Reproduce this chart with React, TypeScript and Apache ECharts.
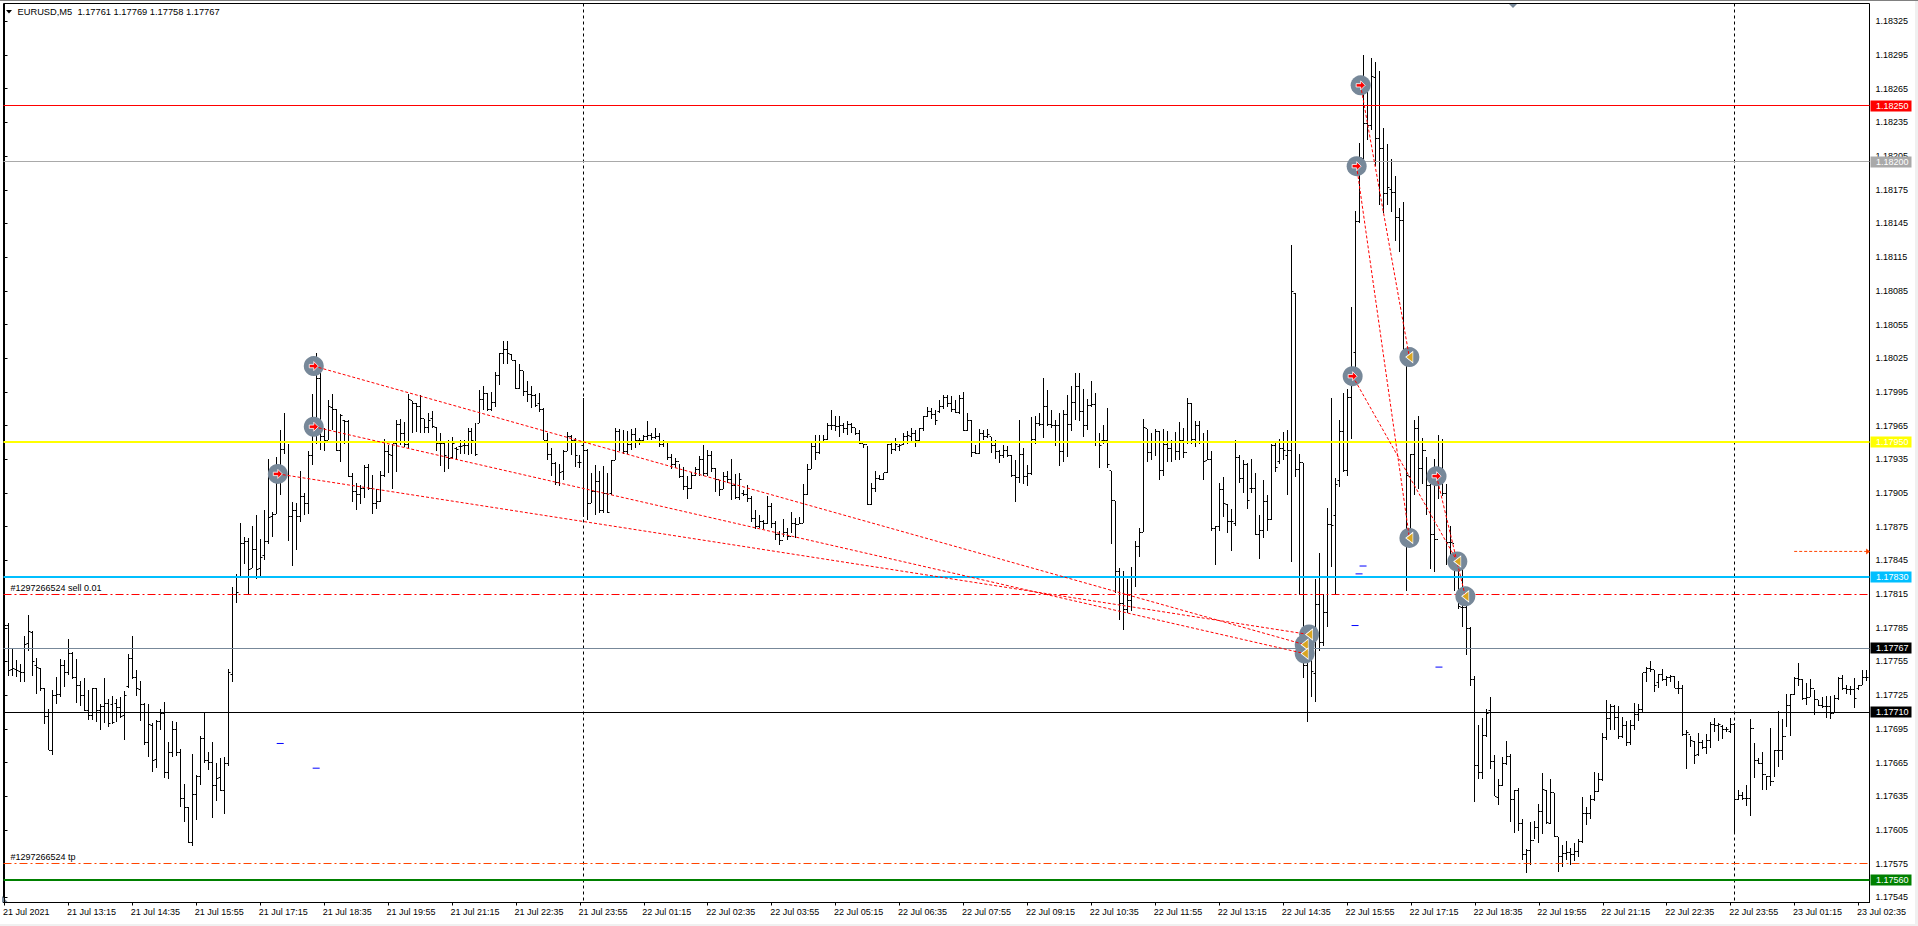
import React, { useEffect, useRef } from "react";
import * as echarts from "echarts";

const FONT = '"Liberation Sans", Arial, sans-serif';
const POINT = 1e-5;
const PRICE_MIN = 1.175404;
const PRICE_MAX = 1.1834085;

const timeLabels = [
  "21 Jul 2021", "21 Jul 13:15", "21 Jul 14:35", "21 Jul 15:55", "21 Jul 17:15", "21 Jul 18:35",
  "21 Jul 19:55", "21 Jul 21:15", "21 Jul 22:35", "21 Jul 23:55", "22 Jul 01:15", "22 Jul 02:35",
  "22 Jul 03:55", "22 Jul 05:15", "22 Jul 06:35", "22 Jul 07:55", "22 Jul 09:15", "22 Jul 10:35",
  "22 Jul 11:55", "22 Jul 13:15", "22 Jul 14:35", "22 Jul 15:55", "22 Jul 17:15", "22 Jul 18:35",
  "22 Jul 19:55", "22 Jul 21:15", "22 Jul 22:35", "22 Jul 23:55", "23 Jul 01:15", "23 Jul 02:35",
];
const timeTickBars = [0, 16, 32, 48, 64, 80, 96, 112, 128, 144, 160, 176, 192, 208, 224, 240, 256, 272, 288, 304, 320, 336, 352, 368, 384, 400, 416, 432, 448, 464];
const priceTicks = [
  1.18325, 1.18295, 1.18265, 1.18235, 1.18205, 1.18175, 1.18145, 1.18115, 1.18085, 1.18055, 1.18025,
  1.17995, 1.17965, 1.17935, 1.17905, 1.17875, 1.17845, 1.17815, 1.17785, 1.17755, 1.17725, 1.17695,
  1.17665, 1.17635, 1.17605, 1.17575, 1.17545,
];
const separatorBars = [145, 433];

const highs = [
  117815,117789,117766,117756,117753,117778,117796,117782,117758,117749,
  117731,117713,117730,117741,117757,117756,117775,117763,117757,117738,
  117740,117730,117731,117731,117717,117740,117722,117724,117722,117723,
  117729,117762,117778,117747,117738,117718,117717,117700,117703,117713,
  117719,117683,117702,117701,117677,117646,117625,117673,117654,117689,
  117710,117674,117683,117665,117669,117670,117748,117821,117833,117878,
  117866,117865,117876,117885,117864,117890,117935,117888,117937,117961,
  117976,117949,117897,117896,117925,117905,117942,117993,118030,118014,
  117963,117988,117993,117980,117975,117970,117970,117923,117914,117912,
  117930,117931,117921,117909,117925,117953,117948,117949,117970,117971,
  117968,117993,117987,117985,117992,117971,117976,117978,117964,117958,
  117950,117952,117955,117946,117952,117952,117963,117963,117967,117997,
  118000,117994,117995,118013,118030,118040,118040,118029,118023,118020,
  118014,118005,118000,117993,117994,117981,117958,117945,117933,117931,
  117943,117959,117957,117954,117939,117990,117944,117923,117930,117925,
  117929,117923,117934,117963,117962,117961,117960,117962,117963,117954,
  117957,117969,117958,117963,117958,117952,117950,117940,117936,117931,
  117928,117920,117924,117928,117938,117948,117943,117942,117927,117917,
  117924,117925,117935,117922,117923,117908,117912,117902,117890,117885,
  117881,117902,117896,117880,117871,117882,117874,117888,117883,117884,
  117913,117931,117950,117957,117957,117957,117967,117979,117974,117974,
  117967,117969,117967,117963,117961,117949,117947,117914,117925,117921,
  117923,117949,117951,117954,117949,117958,117960,117963,117961,117963,
  117974,117982,117981,117979,117988,117992,117992,117991,117988,117992,
  117995,117976,117970,117948,117962,117961,117962,117955,117952,117943,
  117948,117947,117939,117934,117970,117945,117930,117973,117974,117976,
  118007,117997,117979,117970,117976,117979,117992,118000,118012,118012,
  117998,117989,118005,117994,117958,117966,117981,117925,117898,117838,
  117836,117828,117839,117862,117874,117971,117962,117958,117962,117960,
  117962,117960,117952,117959,117968,117963,117990,117985,117969,117969,
  117958,117961,117942,117876,117914,117919,117895,117891,117952,117939,
  117934,117932,117935,117923,117885,117917,117903,117949,117951,117953,
  117959,117961,118126,118083,117940,117932,117777,117785,117828,117852,
  117815,117892,117990,117918,117970,117994,117998,118071,118156,118217,
  118295,118267,118292,118289,118281,118230,118216,118202,118187,118159,
  118164,118032,117940,117970,117974,117954,117937,117913,117935,117957,
  117953,117913,117876,117851,117844,117844,117810,117786,117742,117698,
  117705,117713,117723,117672,117650,117670,117684,117673,117641,117642,
  117615,117588,117612,117613,117628,117656,117641,117650,117638,117599,
  117592,117595,117589,117593,117597,117634,117625,117636,117657,117656,
  117691,117721,117717,117716,117715,117706,117702,117703,117718,117717,
  117745,117750,117755,117747,117744,117748,117742,117743,117742,117738,
  117734,117694,117689,117684,117691,117685,117690,117701,117705,117700,
  117698,117697,117705,117700,117641,117639,117645,117704,117682,117669,
  117674,117653,117696,117676,117711,117704,117726,117726,117741,117754,
  117739,117736,117739,117730,117721,117723,117724,117724,117725,117741,
  117743,117734,117733,117740,117734,117747,117747,
];
const lows = [
  117778,117742,117742,117741,117737,117737,117764,117742,117726,117729,
  117699,117676,117672,117717,117723,117732,117743,117739,117718,117715,
  117711,117703,117703,117701,117694,117700,117697,117699,117701,117705,
  117685,117731,117739,117724,117702,117681,117670,117657,117660,117694,
  117651,117650,117670,117671,117625,117612,117593,117591,117614,117645,
  117665,117658,117616,117631,117640,117619,117662,117737,117807,117831,
  117842,117814,117838,117828,117829,117845,117860,117866,117886,117903,
  117940,117862,117840,117854,117879,117885,117886,117930,117949,117943,
  117942,117952,117961,117942,117933,117949,117919,117897,117890,117895,
  117901,117908,117886,117891,117897,117919,117923,117909,117924,117948,
  117946,117945,117958,117959,117958,117958,117958,117963,117942,117929,
  117924,117926,117936,117934,117940,117940,117939,117940,117938,117967,
  117979,117978,117978,117982,118001,118020,118020,118023,117998,117998,
  117991,117986,117981,117982,117977,117952,117934,117920,117912,117911,
  117917,117942,117939,117928,117927,117884,117881,117896,117885,117887,
  117887,117887,117903,117934,117942,117940,117940,117943,117945,117948,
  117951,117952,117952,117953,117946,117946,117934,117926,117927,117918,
  117908,117900,117909,117920,117920,117920,117920,117924,117906,117902,
  117909,117914,117899,117900,117899,117902,117897,117879,117873,117874,
  117873,117877,117874,117863,117859,117866,117863,117869,117865,117877,
  117878,117903,117926,117934,117940,117951,117952,117961,117960,117955,
  117958,117957,117958,117957,117949,117945,117894,117894,117906,117917,
  117917,117923,117940,117942,117942,117948,117949,117951,117946,117951,
  117960,117973,117971,117966,117976,117980,117982,117977,117976,117975,
  117960,117960,117937,117940,117940,117952,117954,117941,117935,117932,
  117936,117937,117919,117897,117914,117913,117911,117921,117949,117965,
  117954,117965,117963,117947,117929,117933,117937,117960,117970,117969,
  117955,117961,117982,117947,117927,117949,117927,117860,117816,117792,
  117783,117798,117800,117821,117848,117870,117933,117934,117938,117917,
  117920,117933,117933,117934,117934,117936,117949,117949,117946,117949,
  117917,117934,117871,117841,117871,117884,117869,117853,117876,117914,
  117905,117891,117905,117868,117846,117865,117871,117881,117924,117931,
  117934,117903,117844,117919,117814,117740,117701,117723,117719,117764,
  117769,117786,117839,117814,117910,117924,117920,117953,118008,118145,
  118198,118219,118228,118196,118161,118154,118161,118155,118129,118120,
  118020,117818,117873,117903,117909,117913,117885,117837,117835,117900,
  117902,117841,117848,117818,117802,117786,117761,117733,117630,117650,
  117650,117688,117659,117635,117627,117644,117663,117612,117602,117604,
  117578,117567,117574,117597,117593,117601,117610,117610,117599,117568,
  117572,117578,117574,117577,117581,117593,117609,117615,117631,117639,
  117649,117685,117694,117694,117686,117687,117680,117681,117694,117702,
  117709,117737,117746,117728,117731,117738,117733,117737,117731,117726,
  117689,117659,117679,117664,117671,117677,117673,117678,117692,117684,
  117686,117692,117691,117602,117632,117632,117626,117617,117651,117664,
  117641,117641,117644,117652,117661,117667,117697,117689,117725,117733,
  117721,117716,117723,117707,117715,117714,117705,117704,117709,117721,
  117730,117726,117725,117714,117730,117734,117738,
];
const opens = [
  117815,117787,117748,117748,117746,117745,117771,117781,117751,117749,
  117731,117706,117676,117725,117726,117751,117745,117762,117741,117734,
  117725,117711,117707,117731,117711,117715,117718,117717,117718,117714,
  117707,117733,117758,117741,117730,117717,117683,117698,117668,117702,
  117709,117656,117674,117694,117674,117633,117625,117594,117637,117653,
  117686,117667,117665,117645,117652,117640,117664,117743,117815,117831,
  117860,117862,117838,117855,117838,117849,117862,117884,117886,117921,
  117944,117950,117884,117889,117884,117902,117896,117938,117964,118007,
  117955,117952,117981,117979,117943,117970,117969,117920,117906,117904,
  117909,117928,117909,117896,117897,117921,117942,117938,117949,117966,
  117958,117948,117987,117985,117982,117971,117963,117971,117963,117949,
  117949,117937,117937,117945,117946,117947,117947,117960,117951,117967,
  117988,117994,117979,117986,118010,118029,118033,118028,118023,117998,
  118014,117995,117993,117992,117985,117979,117952,117939,117931,117914,
  117924,117942,117955,117952,117932,117947,117943,117896,117906,117915,
  117889,117905,117905,117934,117960,117951,117942,117948,117957,117952,
  117952,117955,117956,117954,117955,117948,117950,117937,117930,117933,
  117920,117911,117909,117921,117926,117935,117922,117938,117927,117917,
  117908,117920,117917,117912,117901,117905,117904,117900,117882,117875,
  117880,117878,117893,117878,117868,117863,117870,117866,117878,117877,
  117878,117904,117926,117946,117941,117951,117953,117965,117965,117964,
  117965,117962,117966,117963,117958,117949,117948,117895,117909,117918,
  117917,117923,117948,117944,117946,117948,117955,117955,117958,117952,
  117962,117973,117978,117975,117978,117982,117990,117985,117979,117977,
  117989,117961,117970,117941,117940,117958,117955,117955,117947,117942,
  117938,117943,117938,117921,117919,117939,117920,117922,117953,117967,
  117966,117982,117966,117965,117965,117942,117975,117966,117986,118000,
  117978,117965,117983,117984,117950,117952,117952,117925,117898,117835,
  117807,117801,117809,117830,117857,117870,117962,117941,117950,117960,
  117925,117948,117945,117950,117942,117952,117941,117985,117953,117965,
  117950,117934,117935,117873,117875,117908,117895,117880,117878,117937,
  117918,117930,117909,117909,117868,117872,117897,117881,117947,117933,
  117945,117938,117943,118083,117926,117932,117751,117762,117744,117806,
  117772,117799,117877,117885,117916,117960,117925,117990,118030,118147,
  118203,118234,118232,118275,118221,118212,118172,118175,118173,118150,
  118148,118023,117920,117939,117962,117927,117943,117912,117868,117864,
  117920,117905,117861,117860,117845,117803,117803,117784,117739,117662,
  117656,117689,117711,117666,117634,117645,117664,117670,117632,117640,
  117611,117583,117587,117596,117607,117621,117640,117611,117638,117599,
  117581,117584,117585,117583,117586,117595,117620,117620,117632,117639,
  117650,117687,117704,117715,117705,117688,117698,117683,117698,117708,
  117712,117745,117749,117748,117736,117743,117739,117741,117742,117731,
  117731,117690,117690,117684,117672,117683,117678,117685,117699,117698,
  117697,117694,117693,117699,117632,117636,117633,117633,117695,117667,
  117664,117654,117653,117648,117676,117676,117688,117716,117726,117740,
  117739,117722,117723,117731,117721,117716,117715,117715,117709,117722,
  117740,117731,117730,117730,117731,117734,117741,
];
const closes = [
  117787,117747,117749,117747,117745,117770,117782,117755,117750,117731,
  117706,117676,117725,117726,117751,117745,117762,117741,117734,117725,
  117711,117707,117731,117711,117715,117718,117700,117701,117714,117706,
  117725,117758,117741,117731,117717,117683,117699,117667,117702,117709,
  117656,117674,117694,117674,117633,117625,117594,117637,117653,117686,
  117667,117665,117645,117651,117640,117664,117745,117815,117816,117860,
  117862,117837,117855,117837,117848,117862,117883,117886,117921,117944,
  117950,117884,117889,117884,117902,117896,117938,117964,118007,117955,
  117952,117982,117979,117943,117974,117969,117920,117906,117904,117909,
  117928,117909,117896,117897,117921,117942,117939,117949,117966,117958,
  117948,117988,117985,117982,117971,117963,117970,117964,117949,117949,
  117938,117936,117949,117944,117946,117947,117960,117952,117939,117988,
  117994,117979,117986,118010,118029,118033,118029,118023,117998,118014,
  117995,117993,117992,117983,117979,117952,117939,117931,117914,117923,
  117942,117955,117952,117938,117932,117943,117896,117906,117915,117889,
  117905,117888,117934,117960,117951,117942,117948,117957,117952,117952,
  117955,117956,117954,117955,117948,117950,117937,117930,117933,117920,
  117911,117909,117921,117926,117935,117922,117938,117927,117917,117908,
  117920,117917,117912,117901,117917,117904,117900,117882,117875,117880,
  117878,117893,117878,117868,117863,117870,117866,117878,117877,117878,
  117904,117926,117946,117941,117951,117953,117965,117965,117964,117965,
  117962,117966,117963,117958,117949,117948,117895,117909,117918,117917,
  117923,117948,117944,117948,117947,117955,117956,117958,117952,117962,
  117973,117978,117975,117970,117982,117990,117985,117979,117977,117989,
  117961,117970,117941,117940,117958,117955,117957,117947,117942,117938,
  117943,117938,117921,117919,117939,117920,117922,117953,117967,117966,
  117982,117966,117965,117965,117942,117975,117966,117986,118000,117978,
  117965,117983,117984,117950,117947,117952,117930,117898,117835,117807,
  117801,117809,117830,117857,117870,117963,117941,117950,117960,117925,
  117948,117945,117950,117942,117952,117941,117985,117953,117965,117950,
  117933,117935,117873,117875,117908,117896,117880,117880,117937,117918,
  117930,117898,117909,117868,117872,117897,117881,117947,117928,117945,
  117943,117943,118084,117926,117932,117751,117762,117746,117806,117772,
  117799,117877,117876,117913,117960,117925,117990,118015,118147,118204,
  118234,118232,118276,118221,118212,118172,118177,118173,118150,118148,
  118023,117921,117939,117962,117927,117943,117912,117868,117864,117920,
  117905,117861,117861,117845,117804,117803,117784,117739,117662,117656,
  117689,117709,117666,117635,117645,117664,117670,117632,117640,117611,
  117583,117587,117596,117607,117621,117641,117612,117638,117599,117581,
  117584,117585,117583,117586,117595,117620,117620,117632,117639,117650,
  117687,117704,117715,117705,117688,117698,117683,117698,117708,117712,
  117745,117749,117748,117734,117743,117739,117741,117742,117731,117731,
  117690,117692,117685,117671,117683,117678,117685,117699,117698,117699,
  117694,117694,117699,117632,117636,117633,117633,117695,117667,117664,
  117654,117653,117648,117676,117676,117688,117716,117726,117740,117739,
  117722,117723,117731,117721,117716,117715,117715,117709,117722,117740,
  117731,117730,117730,117722,117734,117741,117741,
];

// Trades: sell entry arrow -> exit triangle
const entryBars = [77.4, 77.4, 68.4, 337.4, 338.4, 339.4, 358.4];
const entryPrices = [118018, 117964, 117922, 118009, 118196, 118268, 117920];
const exitBars = [325.4, 325.4, 326.5, 363.6, 351.6, 351.6, 365.6];
const exitPrices = [117770, 117762, 117779, 117844, 117865, 118026, 117813];
const stopBars = [69, 78, 338, 339, 340, 359];
const stopPrices = [117682, 117660, 117787, 117833, 117840, 117750];
const priceArrowBars = [447.9, 466.4];
const priceArrowLevel = 117853;

const levelPrices = [1.1825, 1.182, 1.1795, 1.1783, 1.17815, 1.17767, 1.1771, 1.17575, 1.1756];
const levelColors = ["#ff0000", "#a9a9a9", "#ffff00", "#00bfff", "#ff0000", "#778899", "#000000", "#ff4500", "#008000"];
const levelWidths = [1, 1, 2, 2, 1, 1, 1, 1, 2];
const levelTagColors = ["#ff0000", "#a9a9a9", "#ffff00", "#00bfff", "", "#000000", "#000000", "", "#008000"];
const levelNotes = ["", "", "", "", "#1297266524 sell 0.01", "", "", "#1297266524 tp", ""];

const barRows = highs.map((h, i) => [i, opens[i] * POINT, h * POINT, lows[i] * POINT, closes[i] * POINT]);

const ARROW = "path://M0 2.5H4V0L8 4L4 8V5.5H0Z";
const TRIANGLE = "path://M8 0V10L0 5Z";
const RIGHT_TRIANGLE = "path://M0 0V10L8 5Z";

const crisp = (v: number) => Math.round(v - 0.5) + 0.5;

function renderBar(_params: any, api: any) {
  const k = api.value(0);
  const o = api.coord([k, api.value(1)]);
  const h = api.coord([k, api.value(2)]);
  const l = api.coord([k, api.value(3)]);
  const c = api.coord([k, api.value(4)]);
  const x = crisp(o[0]);
  const style = { stroke: "#000000", lineWidth: 1, fill: null };
  return {
    type: "group",
    children: [
      { type: "line", shape: { x1: x, y1: Math.round(h[1]), x2: x, y2: Math.round(l[1]) }, style },
      { type: "line", shape: { x1: x - 2, y1: crisp(o[1]), x2: x - 0.5, y2: crisp(o[1]) }, style },
      { type: "line", shape: { x1: x + 0.5, y1: crisp(c[1]), x2: x + 2, y2: crisp(c[1]) }, style },
    ],
  };
}

function renderLevel(params: any, api: any) {
  const i = params.dataIndex;
  const grid = params.coordSys;
  const raw = api.coord([0, api.value(1)])[1];
  const width = levelWidths[i];
  const y = width % 2 ? crisp(raw) : Math.round(raw);
  const right = grid.x + grid.width;
  const dashed = levelNotes[i] !== "";
  const children: any[] = [
    {
      type: "line",
      shape: { x1: grid.x, y1: y, x2: right, y2: y },
      style: {
        stroke: levelColors[i],
        lineWidth: width,
        fill: null,
        lineDash: dashed ? [8, 3, 2, 3] : null,
      },
    },
  ];
  if (levelTagColors[i]) {
    children.push({
      type: "rect",
      shape: { x: right + 1, y: Math.round(raw) - 5.5, width: 41, height: 11 },
      style: { fill: levelTagColors[i] },
    });
    children.push({
      type: "text",
      x: right + 6.5,
      y: Math.round(raw),
      style: {
        text: api.value(1).toFixed(5),
        fill: "#ffffff",
        font: `9px ${FONT}`,
        verticalAlign: "middle",
        align: "left",
      },
    });
  }
  if (dashed) {
    children.push({
      type: "text",
      x: grid.x + 7,
      y: y - 2,
      style: {
        text: levelNotes[i],
        fill: "#000000",
        font: `9px ${FONT}`,
        verticalAlign: "bottom",
        align: "left",
      },
    });
  }
  return { type: "group", children };
}

function renderSeparator(params: any, api: any) {
  const grid = params.coordSys;
  const x = crisp(api.coord([api.value(0), PRICE_MIN])[0]);
  return {
    type: "line",
    shape: { x1: x, y1: grid.y, x2: x, y2: grid.y + grid.height },
    style: { stroke: "#000000", lineWidth: 1, fill: null, lineDash: [3, 3] },
  };
}

export default function App() {
  const ref = useRef<HTMLDivElement>(null);
  useEffect(() => {
    document.body.style.margin = "0";
    document.body.style.overflow = "hidden";
    const chart = echarts.init(ref.current!, undefined, { renderer: "svg" });

    chart.setOption({
      animation: false,
      backgroundColor: "#ffffff",
      grid: { left: 1.5, top: 3.5, width: 1868, height: 899, show: true, borderColor: "#000000", borderWidth: 1, backgroundColor: "#ffffff" },
      xAxis: {
        type: "value",
        min: -0.25,
        max: 466.75,
        splitLine: { show: false },
        axisLine: { show: true, lineStyle: { color: "#000000" } },
        axisTick: { show: true, length: 3, customValues: timeTickBars, lineStyle: { color: "#000000" } },
        axisLabel: {
          customValues: timeTickBars,
          align: "left",
          margin: 5,
          padding: [0, 0, 0, -1.5],
          color: "#000000",
          fontFamily: FONT,
          fontSize: 9,
          hideOverlap: false,
          formatter: (v: number) => timeLabels[timeTickBars.indexOf(v)] ?? "",
        },
      },
      yAxis: {
        type: "value",
        position: "right",
        min: PRICE_MIN,
        max: PRICE_MAX,
        scale: true,
        splitLine: { show: false },
        axisLine: { show: true, lineStyle: { color: "#000000" } },
        axisTick: { show: true, length: 3, customValues: priceTicks, lineStyle: { color: "#000000" } },
        axisLabel: {
          customValues: priceTicks,
          margin: 6,
          color: "#000000",
          fontFamily: FONT,
          fontSize: 9,
          hideOverlap: false,
          formatter: (v: number) => v.toFixed(5),
        },
      },
      series: [
        {
          type: "custom",
          name: "Separators",
          renderItem: renderSeparator,
          data: separatorBars.map((b) => [b, PRICE_MIN]),
          encode: { x: 0, y: 1 },
          clip: false,
          silent: true,
          z: 1,
        },
        {
          type: "custom",
          name: "EURUSD,M5",
          renderItem: renderBar,
          data: barRows,
          encode: { x: 0, y: [1, 2, 3, 4] },
          clip: true,
          silent: true,
          z: 2,
        },
        {
          type: "custom",
          name: "Levels",
          renderItem: renderLevel,
          data: levelPrices.map((p) => [0, p]),
          encode: { x: 0, y: 1 },
          clip: false,
          silent: true,
          z: 3,
        },
        ...entryBars.map((b, i) => ({
          type: "line",
          data: [
            [b, entryPrices[i] * POINT],
            [exitBars[i], exitPrices[i] * POINT],
          ],
          showSymbol: false,
          silent: true,
          z: 6,
          lineStyle: { color: "#ff0000", width: 1, type: [3, 2] },
        })),
        {
          type: "scatter",
          silent: true,
          z: 5,
          symbol: "circle",
          symbolSize: 20,
          itemStyle: { color: "#778899", opacity: 1 },
          data: [
            ...entryBars.map((b, i) => [b, entryPrices[i] * POINT]),
            ...exitBars.map((b, i) => [b, exitPrices[i] * POINT]),
          ],
        },
        {
          type: "scatter",
          silent: true,
          z: 7,
          symbol: ARROW,
          symbolSize: [9, 9],
          itemStyle: { color: "#ff0000", borderColor: "#ffffff", borderWidth: 0.8, opacity: 1 },
          data: entryBars.map((b, i) => [b, entryPrices[i] * POINT]),
        },
        {
          type: "scatter",
          silent: true,
          z: 7,
          symbol: TRIANGLE,
          symbolSize: [7, 11],
          itemStyle: { color: "#daa520", borderColor: "#ffffff", borderWidth: 0.8, opacity: 1 },
          data: exitBars.map((b, i) => [b, exitPrices[i] * POINT]),
        },
        {
          type: "scatter",
          silent: true,
          z: 5,
          symbol: "rect",
          symbolSize: [7, 1],
          itemStyle: { color: "#0000ff", opacity: 1 },
          data: stopBars.map((b, i) => [b, stopPrices[i] * POINT]),
        },
        {
          type: "line",
          data: priceArrowBars.map((b) => [b, priceArrowLevel * POINT]),
          showSymbol: false,
          silent: true,
          z: 4,
          lineStyle: { color: "#ff4500", width: 1, type: [3, 2] },
        },
        {
          type: "scatter",
          silent: true,
          z: 5,
          symbol: RIGHT_TRIANGLE,
          symbolSize: [4, 6],
          itemStyle: { color: "#ff4500", opacity: 1 },
          data: [[priceArrowBars[1], priceArrowLevel * POINT]],
        },
      ],
      graphic: [
        { type: "rect", silent: true, shape: { x: 0, y: 0, width: 1918, height: 1 }, style: { fill: "#808080" } },
        { type: "rect", silent: true, shape: { x: 0, y: 924, width: 1918, height: 2 }, style: { fill: "#f0f0f0" } },
        { type: "rect", silent: true, shape: { x: 1915, y: 1, width: 3, height: 925 }, style: { fill: "#f0f0f0" } },
        { type: "polygon", silent: true, shape: { points: [[6, 10], [12, 10], [9, 13.5]] }, style: { fill: "#000000" } },
        { type: "polygon", silent: true, shape: { points: [[1509, 4], [1517, 4], [1513, 8]] }, style: { fill: "#778899" } },
        { type: "polygon", silent: true, shape: { points: [[2, 896], [8, 902.5], [2, 902.5]] }, style: { fill: "#778899" } },
        {
          type: "text",
          silent: true,
          x: 17.5,
          y: 7,
          style: {
            text: "EURUSD,M5  1.17761 1.17769 1.17758 1.17767",
            fill: "#000000",
            font: `9.3px ${FONT}`,
          },
        },
      ],
    });
    return () => chart.dispose();
  }, []);
  return <div ref={ref} style={{ position: "fixed", left: 0, top: 0, width: 1918, height: 926 }} />;
}
